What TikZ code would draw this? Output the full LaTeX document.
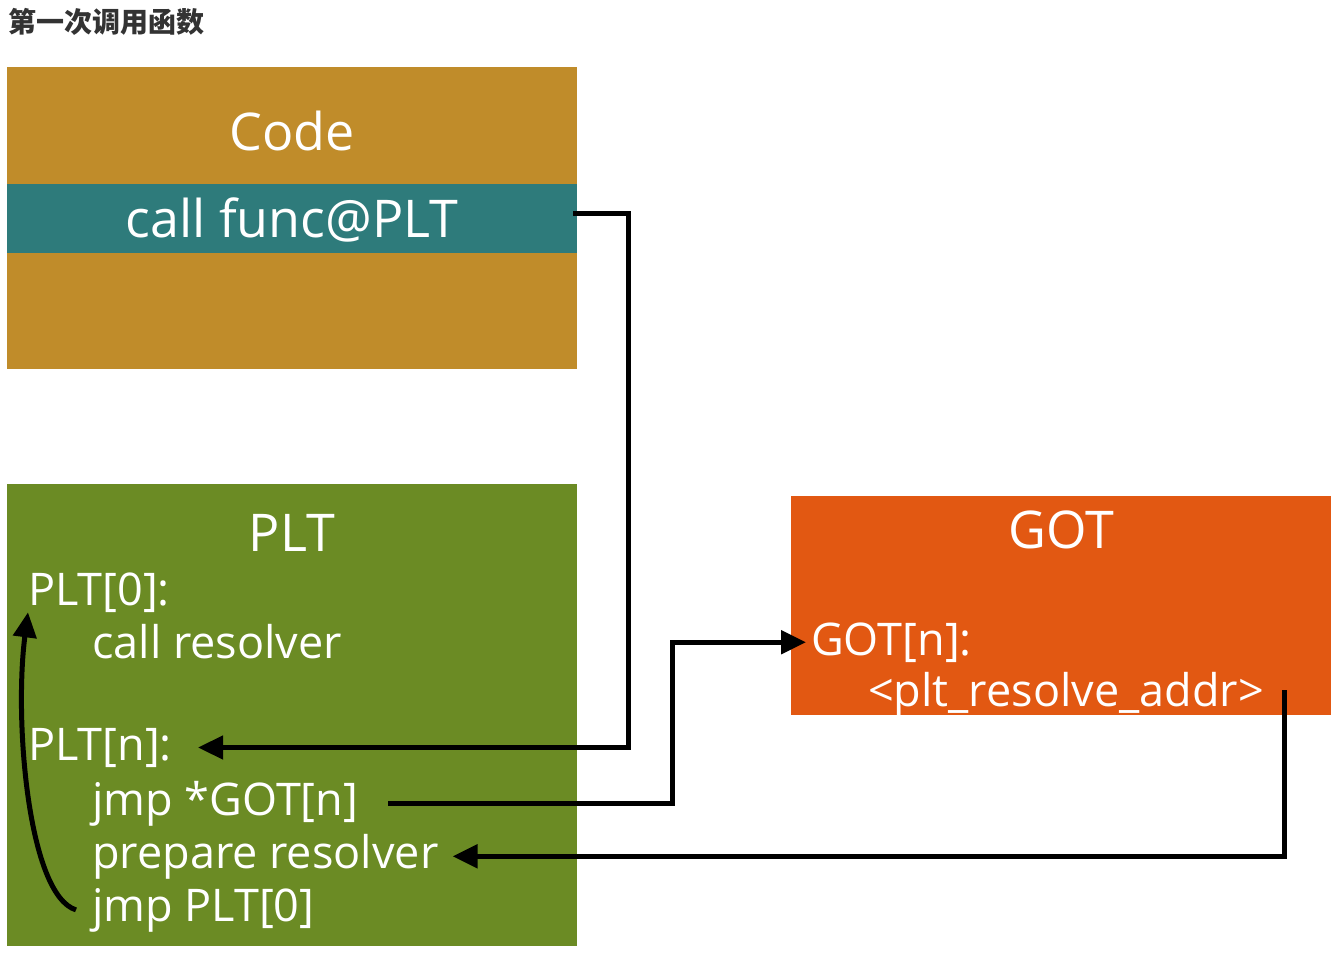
\documentclass[tikz,border=0pt]{standalone}
\usepackage{fontspec}
\setmainfont{Open Sans}
\newfontfamily\cjk{Noto Sans CJK SC}
\usetikzlibrary{arrows.meta,calc}
\definecolor{codecol}{RGB}{192,140,42}
\definecolor{tealcol}{RGB}{46,123,123}
\definecolor{pltcol}{RGB}{107,139,36}
\definecolor{gotcol}{RGB}{226,88,18}
\definecolor{titlecol}{RGB}{51,51,51}
\begin{document}
\begin{tikzpicture}[x=1pt,y=-1pt,
  area/.style={fill=#1,draw=none,inner sep=0pt,outer sep=0pt},
  head/.style={text=white,inner sep=0pt,anchor=base,font=\fontsize{52}{60}\selectfont},
  line/.style={text=white,inner sep=0pt,anchor=base west,font=\fontsize{45}{54}\selectfont},
  conn/.style={draw=black,line width=5pt,-{Triangle[length=25pt,width=23pt]}}]
\useasboundingbox (0,0) rectangle (1344,976);
% title
\node[anchor=base west,inner sep=0pt,text=titlecol,font=\cjk\bfseries\fontsize{28}{32}\selectfont] (title) at (8,33) {第一次调用函数};
% boxes
\node[area=codecol,minimum width=570pt,minimum height=302pt] (code) at (292,218) {};
\node[area=tealcol,minimum width=570pt,minimum height=69pt] (band) at (292,218.5) {};
\node[area=pltcol,minimum width=570pt,minimum height=462pt] (plt) at (292,715) {};
\node[area=gotcol,minimum width=540pt,minimum height=219pt] (got) at (1061,605.5) {};
% texts
\node[head] (codet) at (292,151) {Code};
\node[head] (call) at (292,238) {call func@PLT};
\node[head] (pltt) at (292,551) {PLT};
\node[head] (gott) at (1061,548) {GOT};
\node[line] (plt0) at (28,605) {PLT[0]:};
\node[line] (callres) at (92,658) {call resolver};
\node[line] (pltn) at (28,760) {PLT[n]:};
\node[line] (jmpgot) at (92,815) {jmp *GOT[n]};
\node[line] (prep) at (92,868) {prepare resolver};
\node[line] (jmpplt) at (92,921) {jmp PLT[0]};
\node[line] (gotn) at (811,655) {GOT[n]:};
\node[line] (addr) at (868,706) {<plt\_resolve\_addr>};
% helper columns
\coordinate (xa) at (628,0);
\coordinate (xb) at (672,0);
\coordinate (xc) at (1284,0);
% connectors
\draw[conn] ([xshift=-4pt,yshift=4.5pt]band.east) -| ([yshift=4.5pt]band.east -| xa) -- (pltn.east -| xa) -- ([xshift=26pt]pltn.east);
\draw[conn] ([xshift=30pt]jmpgot.east) -- (jmpgot.east -| xb) -- (gotn.west -| xb) -- ([xshift=-5pt]gotn.west);
\draw[conn] ([yshift=4pt]addr.east -| xc) -- (prep.east -| xc) -- ([xshift=14pt]prep.east);
\draw[conn] ([xshift=-16pt]jmpplt.west) .. controls (28,895) and (14,720) .. (plt0.south west);
\end{tikzpicture}
\end{document}
